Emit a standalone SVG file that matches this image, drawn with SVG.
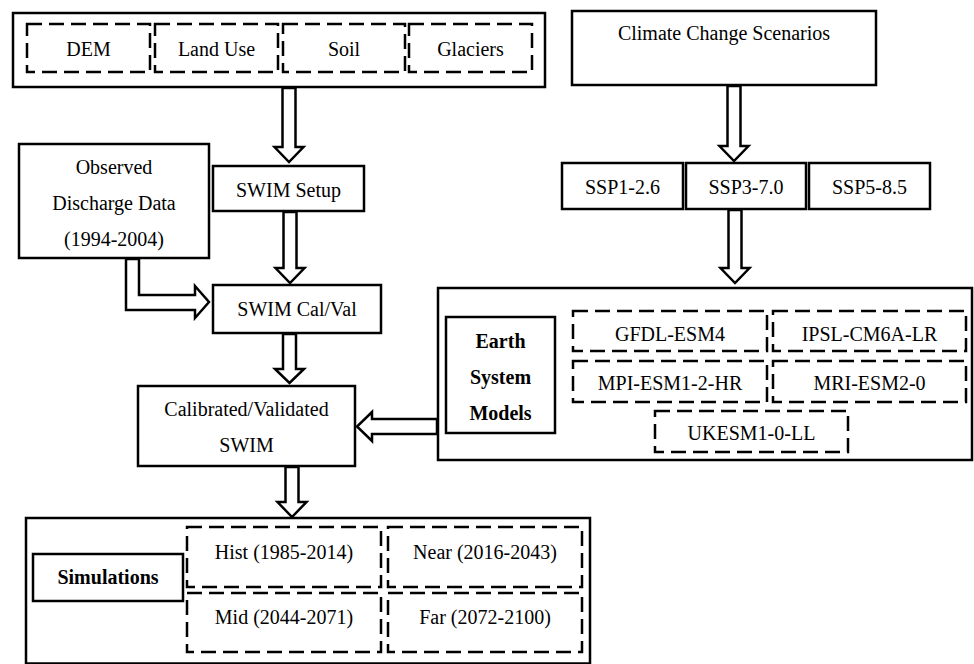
<svg xmlns="http://www.w3.org/2000/svg" width="974" height="664" viewBox="0 0 974 664">
<style>
.box{fill:#fff;stroke:#000;stroke-width:2.5}
.dash{fill:none;stroke:#000;stroke-width:2.5;stroke-dasharray:15 7}
.arr{fill:#fff;stroke:#000;stroke-width:2.5;stroke-linejoin:miter}
text{font-family:"Liberation Serif","Times New Roman",serif;font-size:20px;fill:#000;text-anchor:middle}
.b{font-weight:bold}
</style>
<rect width="974" height="664" fill="#fff"/>
<g id="inputs">
<rect class="box" x="13" y="13" width="532" height="74"/>
<rect class="dash" x="27" y="24" width="123" height="48"/>
<rect class="dash" x="155" y="24" width="123" height="48"/>
<rect class="dash" x="283" y="24" width="122" height="48"/>
<rect class="dash" x="409" y="24" width="123" height="48"/>
<text x="88.5" y="56">DEM</text>
<text x="216.5" y="56">Land Use</text>
<text x="344" y="56">Soil</text>
<text x="470.5" y="56">Glaciers</text>
</g>
<g id="climate">
<rect class="box" x="572" y="11" width="304" height="74"/>
<text x="724" y="40">Climate Change Scenarios</text>
</g>
<g id="ssp">
<rect class="box" x="562" y="163" width="121" height="46"/>
<rect class="box" x="686" y="163" width="120" height="46"/>
<rect class="box" x="809" y="163" width="121" height="46"/>
<text x="622.5" y="194">SSP1-2.6</text>
<text x="746" y="194">SSP3-7.0</text>
<text x="869.5" y="194">SSP5-8.5</text>
</g>
<g id="observed">
<rect class="box" x="19" y="144" width="190" height="114"/>
<text x="114" y="174">Observed</text>
<text x="114" y="210">Discharge Data</text>
<text x="114" y="246">(1994-2004)</text>
</g>
<g id="setup">
<rect class="box" x="213" y="166" width="151" height="45"/>
<text x="288.5" y="197">SWIM Setup</text>
</g>
<g id="calval">
<rect class="box" x="213" y="285" width="168" height="48"/>
<text x="297" y="316">SWIM Cal/Val</text>
</g>
<g id="calibrated">
<rect class="box" x="138" y="386" width="217" height="80"/>
<text x="246.5" y="416">Calibrated/Validated</text>
<text x="246.5" y="452">SWIM</text>
</g>
<g id="esm">
<rect class="box" x="438" y="288" width="534" height="172"/>
<rect class="box" x="446" y="317" width="109" height="116"/>
<text class="b" x="500.5" y="348">Earth</text>
<text class="b" x="500.5" y="384">System</text>
<text class="b" x="500.5" y="420">Models</text>
<rect class="dash" x="573" y="311" width="194" height="40"/>
<rect class="dash" x="773" y="311" width="193" height="40"/>
<rect class="dash" x="573" y="361" width="194" height="41"/>
<rect class="dash" x="773" y="361" width="193" height="41"/>
<rect class="dash" x="655" y="411" width="193" height="41"/>
<text x="670" y="341">GFDL-ESM4</text>
<text x="869.5" y="341">IPSL-CM6A-LR</text>
<text x="670" y="390">MPI-ESM1-2-HR</text>
<text x="869.5" y="390">MRI-ESM2-0</text>
<text x="751.5" y="440">UKESM1-0-LL</text>
</g>
<g id="simulations">
<rect class="box" x="26" y="518" width="564" height="145.5"/>
<rect class="box" x="33" y="554" width="150" height="47"/>
<text class="b" x="108" y="584">Simulations</text>
<rect class="dash" x="187" y="527" width="194" height="60"/>
<rect class="dash" x="388" y="527" width="194" height="60"/>
<rect class="dash" x="187" y="593" width="194" height="59"/>
<rect class="dash" x="388" y="593" width="194" height="59"/>
<text x="284" y="559">Hist (1985-2014)</text>
<text x="485" y="559">Near (2016-2043)</text>
<text x="284" y="624">Mid (2044-2071)</text>
<text x="485" y="624">Far (2072-2100)</text>
</g>
<g id="connectors">
<polygon class="arr" points="282.5,88 282.5,147 274.5,147 289,162 303.5,147 295.5,147 295.5,88"/>
<polygon class="arr" points="283.5,212 283.5,268 275.5,268 290,283 304.5,268 296.5,268 296.5,212"/>
<polygon class="arr" points="283,334 283,369 275,369 289.5,383 304,369 296,369 296,334"/>
<polygon class="arr" points="285.5,467 285.5,502 277.5,502 292,517 306.5,502 298.5,502 298.5,467"/>
<polygon class="arr" points="727.5,86 727.5,146 719.5,146 734,161 748.5,146 740.5,146 740.5,86"/>
<polygon class="arr" points="728.5,210 728.5,268 720.5,268 735,283 749.5,268 741.5,268 741.5,210"/>
<polygon class="arr" points="437,419 372,419 372,412 357,426.5 372,441 372,434 437,434"/>
<polygon class="arr" points="126,259 126,310 195,310 195,318 209,302 195,286 195,295 139,295 139,259"/>
</g>
</svg>
